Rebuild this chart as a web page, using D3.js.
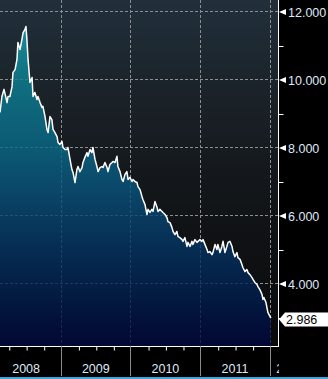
<!DOCTYPE html>
<html>
<head>
<meta charset="utf-8">
<script src="https://cdn.jsdelivr.net/npm/d3@7"></script>
<style>
    html, body { margin: 0; padding: 0; background: #000; overflow: hidden; }
    svg { display: block; }
</style>
</head>
<body>
<div id="chart"></div>
<script>
// yield readings, 2008 - early 2012
const dates = [
    "2008-02-15", "2008-02-25", "2008-03-07", "2008-03-23", "2008-03-28", "2008-04-07", "2008-04-18", "2008-04-23",
    "2008-05-04", "2008-05-14", "2008-05-19", "2008-05-30", "2008-06-09", "2008-06-15", "2008-06-25", "2008-06-30",
    "2008-07-05", "2008-07-11", "2008-07-21", "2008-08-01", "2008-08-06", "2008-08-16", "2008-08-27", "2008-09-01",
    "2008-09-12", "2008-09-22", "2008-09-27", "2008-10-08", "2008-10-18", "2008-10-24", "2008-11-03", "2008-11-13",
    "2008-11-19", "2008-11-29", "2008-12-10", "2008-12-15", "2008-12-25",
    "2009-01-05", "2009-01-10", "2009-01-21", "2009-01-31", "2009-02-05", "2009-02-16", "2009-02-26", "2009-03-04",
    "2009-03-14", "2009-03-24", "2009-03-30", "2009-04-09", "2009-04-20", "2009-04-25", "2009-05-05", "2009-05-16",
    "2009-05-21", "2009-06-01", "2009-06-11", "2009-06-16", "2009-06-27", "2009-07-07", "2009-07-13", "2009-07-23",
    "2009-08-02", "2009-08-08", "2009-08-18", "2009-08-29", "2009-09-03", "2009-09-13", "2009-09-24", "2009-09-29",
    "2009-10-10", "2009-10-20", "2009-10-25", "2009-11-05", "2009-11-15", "2009-11-21", "2009-12-01", "2009-12-11",
    "2009-12-17", "2009-12-27",
    "2010-01-07", "2010-01-12", "2010-01-22", "2010-02-02", "2010-02-07", "2010-02-18", "2010-02-28", "2010-03-05",
    "2010-03-16", "2010-03-26", "2010-04-01", "2010-04-11", "2010-04-21", "2010-04-27", "2010-05-07", "2010-05-18",
    "2010-05-23", "2010-06-02", "2010-06-13", "2010-06-18", "2010-06-29", "2010-07-09", "2010-07-14", "2010-07-25",
    "2010-08-04", "2010-08-10", "2010-08-20", "2010-08-30", "2010-09-05", "2010-09-15", "2010-09-26", "2010-10-01",
    "2010-10-11", "2010-10-22", "2010-10-27", "2010-11-07", "2010-11-17", "2010-11-22", "2010-12-03", "2010-12-13",
    "2010-12-29",
    "2011-01-08", "2011-01-14", "2011-01-24", "2011-02-04", "2011-02-09", "2011-02-19", "2011-03-02", "2011-03-07",
    "2011-03-18", "2011-03-28", "2011-04-02", "2011-04-13", "2011-04-23", "2011-04-29", "2011-05-09", "2011-05-19",
    "2011-05-25", "2011-06-04", "2011-06-15", "2011-06-20", "2011-06-30", "2011-07-11", "2011-07-16", "2011-07-27",
    "2011-08-06", "2011-08-11", "2011-08-22", "2011-09-01", "2011-09-07", "2011-09-17", "2011-09-27", "2011-10-03",
    "2011-10-13", "2011-10-24", "2011-10-29", "2011-11-08", "2011-11-19", "2011-11-24", "2011-11-29", "2011-12-10",
    "2011-12-15", "2011-12-20", "2011-12-31", "2012-01-05"
]

const yields = [
    9.03, 9.50, 9.71, 9.32, 9.50, 9.50, 9.79, 10.21, 10.29, 10.59, 11.09, 10.88, 11.18, 11.38, 11.47, 11.56,
    11.18, 10.59, 9.91, 10.06, 9.50, 9.62, 9.41, 9.50, 9.32, 9.18, 9.21, 8.91, 8.53, 8.44, 8.91, 8.82,
    8.53, 8.44, 8.32, 8.15, 8.09,
    8.18, 8.00, 7.94, 7.94, 8.00, 7.65, 7.35, 7.26, 6.97, 7.35, 7.44, 7.29, 7.41, 7.56, 7.71, 7.85,
    7.74, 7.94, 7.85, 8.00, 7.65, 7.44, 7.29, 7.41, 7.44, 7.41, 7.56, 7.41, 7.29, 7.50, 7.56, 7.59,
    7.56, 7.74, 7.44, 7.29, 7.06, 7.00, 7.21, 7.29, 7.06, 7.12,
    7.00, 7.06, 7.00, 6.97, 6.85, 6.76, 6.56, 6.47, 6.32, 6.03, 6.18, 6.09, 6.18, 6.12, 6.41, 6.24,
    6.12, 6.18, 6.12, 6.09, 6.03, 5.94, 5.82, 5.79, 5.65, 5.53, 5.44, 5.53, 5.38, 5.35, 5.29, 5.24,
    5.35, 5.09, 5.21, 5.09, 5.24, 5.15, 5.29, 5.21, 5.29,
    5.24, 5.29, 5.15, 5.00, 4.91, 4.94, 4.85, 4.91, 5.15, 5.00, 5.15, 4.91, 5.09, 5.24, 4.91, 5.09,
    5.21, 5.24, 5.09, 4.94, 4.79, 4.91, 4.76, 4.71, 4.56, 4.47, 4.35, 4.41, 4.32, 4.26, 4.18, 4.12,
    4.03, 3.97, 3.91, 3.82, 3.68, 3.53, 3.59, 3.44, 3.29, 3.15, 3.03, 2.986
]

const yMajor = [4, 6, 8, 10, 12]
const yMinor = [3, 5, 7, 9, 11]
const years = [2008, 2009, 2010, 2011, 2012]
const xStart = "2008-02-15"
const xEnd = "2012-02-11"

const W = 328, H = 379
const plotW = 278, plotH = 346
const font = "'Liberation Sans', Arial, sans-serif"
const labelColor = "#dfe9f7"

const parse = d3.utcParse("%Y-%m-%d")
const data = dates.map((d, i) => ({ date: parse(d), v: yields[i] }))

const svg = d3.select("#chart")
    .append("svg")
    .attr("width", W)
    .attr("height", H)

svg.append("rect").attr("width", W).attr("height", H).attr("fill", "#000")

let x = d3.scaleUtc()
    .domain([parse(xStart), parse(xEnd)])
    .range([0, plotW])

let y = d3.scaleLinear()
    .domain([2.162, 12.338])
    .range([plotH, 0])

const defs = svg.append("defs")

const bg = defs.append("linearGradient").attr("id", "bg")
    .attr("x1", 0).attr("y1", 0).attr("x2", 0).attr("y2", 1)
bg.selectAll("stop")
    .data([[0, "#222f3b"], [0.15, "#1d2830"], [0.3, "#1a2127"], [0.5, "#14181c"], [0.75, "#0e1012"], [1, "#0a0a0b"]])
    .enter().append("stop")
    .attr("offset", d => d[0]).attr("stop-color", d => d[1])

const fill = defs.append("linearGradient").attr("id", "fill")
    .attr("gradientUnits", "userSpaceOnUse")
    .attr("x1", 0).attr("y1", 0).attr("x2", 0).attr("y2", plotH)
fill.selectAll("stop")
    .data([[0, "#16a8ba"], [30 / plotH, "#14a2b5"], [80 / plotH, "#0c8194"], [150 / plotH, "#096989"],
        [200 / plotH, "#084d78"], [250 / plotH, "#043362"], [300 / plotH, "#011c4c"], [1, "#00063d"]])
    .enter().append("stop")
    .attr("offset", d => d[0]).attr("stop-color", d => d[1])

defs.append("clipPath").attr("id", "plotClip")
    .append("rect").attr("width", plotW).attr("height", plotH)

defs.append("clipPath").attr("id", "xClip")
    .append("rect").attr("width", plotW + 1).attr("height", H)

svg.append("rect")
    .attr("width", plotW).attr("height", plotH)
    .attr("fill", "url(#bg)")

const plot = svg.append("g").attr("clip-path", "url(#plotClip)")

// grid
const crisp = v => Math.floor(v) + 0.5
plot.append("g").selectAll("line")
    .data(yMajor)
    .enter().append("line")
    .attr("x1", 0).attr("x2", plotW)
    .attr("y1", d => crisp(y(d))).attr("y2", d => crisp(y(d)))
    .attr("stroke", "#8e8e8e").attr("stroke-dasharray", "3,2")

plot.append("g").selectAll("line")
    .data(years.slice(1))
    .enter().append("line")
    .attr("x1", d => crisp(x(Date.UTC(d, 0, 1)))).attr("x2", d => crisp(x(Date.UTC(d, 0, 1))))
    .attr("y1", 0).attr("y2", plotH)
    .attr("stroke", "#8e8e8e").attr("stroke-dasharray", "3,2")

// area + line
const area = d3.area()
    .x(d => x(d.date))
    .y0(plotH)
    .y1(d => y(d.v))

plot.append("path")
    .datum(data)
    .attr("d", area)
    .attr("fill", "url(#fill)")
    .attr("fill-opacity", 0.8)

const line = d3.line()
    .x(d => x(d.date))
    .y(d => y(d.v))

plot.append("path")
    .datum(data)
    .attr("d", line)
    .attr("fill", "none")
    .attr("stroke", "#fff")
    .attr("stroke-width", 1.5)
    .attr("stroke-linejoin", "round")

// bottom axis
const quarters = []
years.forEach(yr => [3, 6, 9].forEach(m => {
    const d = new Date(Date.UTC(yr, m, 1))
    if (d >= x.domain()[0] && d <= x.domain()[1]) quarters.push(d)
}))

let xAxis = d3.axisBottom(x)
    .tickValues(quarters)
    .tickSize(4)
    .tickSizeOuter(0)
    .tickFormat("")

const gx = svg.append("g")
    .attr("transform", "translate(0.5," + (plotH + 0.5) + ")")
    .call(xAxis)
gx.select(".domain").attr("stroke", "#fff").attr("d", "M-0.5,0H" + plotW)
gx.selectAll(".tick line").attr("stroke", "#fff")

const xLabels = svg.append("g").attr("clip-path", "url(#xClip)")

xLabels.selectAll("line")
    .data(years.slice(1))
    .enter().append("line")
    .attr("x1", d => crisp(x(Date.UTC(d, 0, 1)))).attr("x2", d => crisp(x(Date.UTC(d, 0, 1))))
    .attr("y1", plotH).attr("y2", plotH + 30)
    .attr("stroke", "#8a8a8a")

xLabels.selectAll("text")
    .data(years)
    .enter().append("text")
    .attr("x", d => {
        const mid = x(Date.UTC(d, 6, 1))
        return mid > plotW ? x(Date.UTC(d, 0, 1)) + 6 : mid
    })
    .attr("y", plotH + 27)
    .attr("text-anchor", d => x(Date.UTC(d, 6, 1)) > plotW ? "start" : "middle")
    .text(d => d)
    .attr("font-size", "12.5px")
    .attr("font-family", font)
    .style("fill", labelColor)

// right axis
svg.append("line")
    .attr("x1", plotW + 0.5).attr("x2", plotW + 0.5)
    .attr("y1", 0).attr("y2", plotH + 1)
    .attr("stroke", "#fff")

let yAxis = d3.axisRight(y)
    .tickValues(yMinor)
    .tickSize(5)
    .tickSizeOuter(0)
    .tickFormat("")

const gy = svg.append("g")
    .attr("transform", "translate(" + (plotW + 0.5) + ",0.5)")
    .call(yAxis)
gy.select(".domain").remove()
gy.selectAll(".tick line").attr("stroke", "#fff")

const major = svg.append("g").selectAll("g")
    .data(yMajor)
    .enter().append("g")
    .attr("transform", d => "translate(" + plotW + "," + (crisp(y(d)) + 0.5) + ")")

major.append("path")
    .attr("d", "M1,0L8,-3L8,3Z")
    .attr("fill", "#fff")

major.append("text")
    .attr("x", 10)
    .attr("y", 5)
    .text(d => d3.format(".3f")(d))
    .attr("font-size", "12.5px")
    .attr("font-family", font)
    .style("fill", labelColor)

// last value tag
const last = yields[yields.length - 1]
const tag = svg.append("g")
    .attr("transform", "translate(" + plotW + "," + (y(last) + 1.5) + ")")

tag.append("path")
    .attr("d", "M1,0L7,-7H" + (W - plotW) + "V7H7Z")
    .attr("fill", "#fff")

tag.append("text")
    .attr("x", 8)
    .attr("y", 5)
    .text(d3.format(".3f")(last))
    .attr("font-size", "12.5px")
    .attr("font-family", font)
    .style("fill", "#000")

// bottom stripe
svg.append("rect")
    .attr("y", H - 2).attr("width", W).attr("height", 2)
    .attr("fill", "#38a9de")
</script>
</body>
</html>
